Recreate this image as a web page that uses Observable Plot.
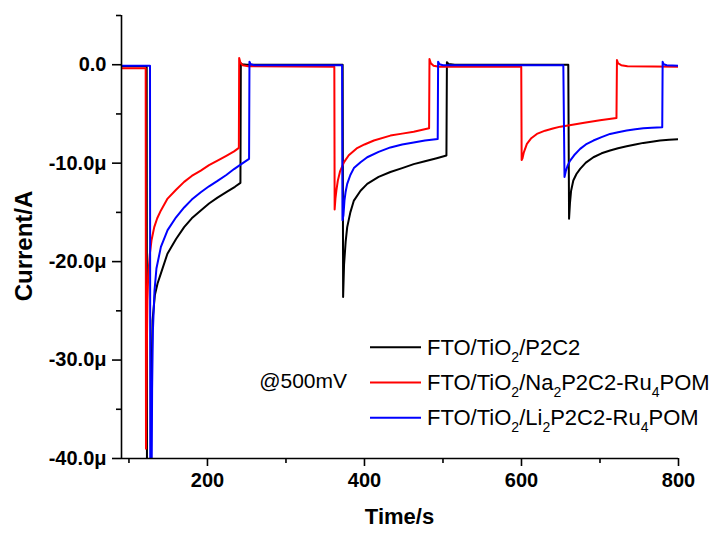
<!DOCTYPE html>
<html><head><meta charset="utf-8">
<script src="https://cdn.jsdelivr.net/npm/d3@7"></script>
<script src="https://cdn.jsdelivr.net/npm/@observablehq/plot@0.6"></script>
<style>body{margin:0;background:#fff;} svg{display:block}</style>
</head><body><div id="chart"></div>
<script>
// ---- data (current in µA, time in s) ----
const seriesNames = ["FTO/TiO2/P2C2", "FTO/TiO2/Na2P2C2-Ru4POM", "FTO/TiO2/Li2P2C2-Ru4POM"];
const seriesColors = ["#000000", "#ff0000", "#0000ff"];

const blackT = [90.5,122.6,123.0,127.5,128.5,130,133,136.5,140.7,149,160,170.3,180,191.5,202,212.8,225,235,242,242.5,244,250,372.2,372.8,374,376,378,382,386.5,395,403.5,418,433,448,462.7,477,492,504.4,505,507,515,659.6,660.6,661.8,663.2,666,670,674.7,682,691.6,702,712.8,723,734,745,755.2,766,776.4,788,800];
const blackV = [-0.15,-0.15,-48,-48,-33,-26,-23.4,-22.2,-21.2,-19.2,-17.7,-16.5,-15.6,-14.8,-14.1,-13.5,-12.9,-12.4,-12.0,0.15,0.05,0,0,-23.6,-20.3,-18,-16.5,-15.0,-13.8,-12.8,-12.1,-11.4,-10.9,-10.5,-10.1,-9.8,-9.5,-9.23,0.25,0.08,0,0,-15.65,-14.0,-12.8,-11.76,-11.1,-10.58,-9.95,-9.4,-9.0,-8.72,-8.48,-8.28,-8.1,-7.94,-7.82,-7.7,-7.63,-7.57];

const redT = [90.5,121.3,121.7,122.6,123.5,124.5,126.5,128.8,132.2,136,140.7,149.2,160,170.3,180,191.5,202,212.8,224,233.9,240,240.4,242,245,252,361.6,362,363,364.2,366,369,374,380,390,400,412,433,448,462.7,482.3,482.8,484.5,488,495,599.7,600.2,601.3,603,606.9,612,619.6,630,640,649.5,665,680,700,721,721.6,723,727,735,800];
const redV = [-0.37,-0.37,-39,-30,-24,-21.5,-19.3,-17.8,-16.5,-15.6,-14.8,-13.6,-12.7,-11.9,-11.3,-10.75,-10.2,-9.74,-9.25,-8.8,-8.45,0.68,0.2,-0.05,-0.15,-0.2,-14.7,-13.6,-12.8,-11.8,-10.8,-9.9,-9.2,-8.5,-8.1,-7.7,-7.2,-7.0,-6.8,-6.46,0.58,0.15,-0.1,-0.2,-0.2,-9.67,-9.5,-8.9,-8.04,-7.5,-7.03,-6.7,-6.48,-6.29,-6.1,-5.9,-5.65,-5.41,0.47,0.15,-0.05,-0.15,-0.2];

const blueT = [90.5,126.8,127.2,128.5,129.5,130.5,132.5,135,140.7,149.2,160,170.3,180,191.5,202,212.8,224,233.9,244,253,253.5,255,260,371.5,372,373.2,374.5,376,378,382,386.5,395,403.5,418,433,448,462.7,477,493.3,493.8,495.5,500,653.3,654.8,656.5,659,662,667,674.7,682,691.6,702,712.8,723,734,745,755.2,766,779.3,779.8,781,785,800];
const blueV = [-0.1,-0.1,-48,-48,-33,-27,-23,-20.7,-18.5,-16.8,-15.5,-14.5,-13.7,-12.95,-12.35,-11.8,-11.2,-10.6,-10.05,-9.56,0.3,0.05,-0.05,-0.05,-15.8,-15.3,-13.8,-12.9,-12.1,-11.2,-10.5,-9.9,-9.4,-8.85,-8.4,-8.1,-7.9,-7.7,-7.54,0.3,0.05,-0.05,-0.05,-11.4,-10.8,-10.2,-9.74,-9.2,-8.55,-8.1,-7.7,-7.35,-7.03,-6.85,-6.69,-6.56,-6.46,-6.4,-6.36,0.3,0.05,-0.05,-0.1];

const xDomain = [90.5, 800];
const yDomain = [-40, 5];
const xMajorTicks = [200, 400, 600, 800];
const xMinorTicks = [100, 300, 500, 700];
const yMajorTicks = [0, -10, -20, -30, -40];
const yMinorTicks = [5, -5, -15, -25, -35];
const xTitle = "Time/s";
const yTitle = "Current/A";
const note = "@500mV";
// legend labels split into [text, isSubscript] pieces
const legendParts = [
  [["FTO/TiO",0],["2",1],["/P2C2",0]],
  [["FTO/TiO",0],["2",1],["/Na",0],["2",1],["P2C2-Ru",0],["4",1],["POM",0]],
  [["FTO/TiO",0],["2",1],["/Li",0],["2",1],["P2C2-Ru",0],["4",1],["POM",0]]
];

// ---- table ----
const seriesT = [blackT, redT, blueT];
const seriesV = [blackV, redV, blueV];
const rows = seriesNames.flatMap((s, i) => seriesT[i].map((t, j) => ({s, t, v: seriesV[i][j]})));

const fmtY = d => d === 0 ? "0.0" : d.toFixed(1) + "μ";

const chart = Plot.plot({
  width: 718, height: 533,
  marginLeft: 121, marginRight: 40, marginTop: 15, marginBottom: 75,
  style: {fontFamily: "Arial, 'Liberation Sans', sans-serif", fontSize: "20px", fontWeight: "bold", background: "#fff", color: "#000"},
  x: {domain: xDomain},
  y: {domain: yDomain},
  color: {domain: seriesNames, range: seriesColors},
  marks: [
    Plot.line(rows, {x: "t", y: "v", z: "s", stroke: "s", strokeWidth: 2, clip: true, strokeLinejoin: "round"}),
    Plot.ruleX([xDomain[0]], {stroke: "#000", strokeWidth: 1.6}),
    Plot.ruleY([yDomain[0]], {stroke: "#000", strokeWidth: 1.6}),
    Plot.axisX(xMajorTicks, {tickSize: 8, tickPadding: 6, tickFormat: d => String(d), label: null, strokeWidth: 1.6}),
    Plot.axisX(xMinorTicks, {tickSize: 5, tickFormat: () => "", label: null, strokeWidth: 1.6}),
    Plot.axisY(yMajorTicks, {tickSize: 9, tickPadding: 6, tickFormat: fmtY, label: null, strokeWidth: 1.6}),
    Plot.axisY(yMinorTicks, {tickSize: 5, tickFormat: () => "", label: null, strokeWidth: 1.6})
  ]
});

const svg = d3.select(chart);
// axis titles
svg.append("text").attr("x", 399.5).attr("y", 524).attr("text-anchor", "middle")
  .style("font-size", "22px").style("font-weight", "bold").text(xTitle);
svg.append("text").attr("transform", "translate(32,246) rotate(-90)").attr("text-anchor", "middle")
  .style("font-size", "24px").style("font-weight", "bold").text(yTitle);
// annotation
svg.append("text").attr("x", 347).attr("y", 388).attr("text-anchor", "end")
  .style("font-size", "21px").style("font-weight", "normal").text(note);
// legend
const lg = svg.append("g").style("font-weight", "normal").attr("text-anchor", "start");
legendParts.forEach((parts, i) => {
  const y = 355 + 35.2 * i;
  lg.append("line").attr("x1", 370).attr("x2", 421).attr("y1", y - 7.7).attr("y2", y - 7.7)
    .attr("stroke", seriesColors[i]).attr("stroke-width", 2);
  const t = lg.append("text").attr("x", 427).attr("y", y).attr("text-anchor", "start").style("font-size", "22px");
  let sub = false;
  parts.forEach(([txt, isSub]) => {
    const ts = t.append("tspan").text(txt);
    if (isSub && !sub) { ts.attr("dy", 7).style("font-size", "14px"); sub = true; }
    else if (isSub) { ts.style("font-size", "14px"); }
    else if (sub) { ts.attr("dy", -7); sub = false; }
  });
});

document.getElementById("chart").appendChild(chart);
</script>
</body></html>
